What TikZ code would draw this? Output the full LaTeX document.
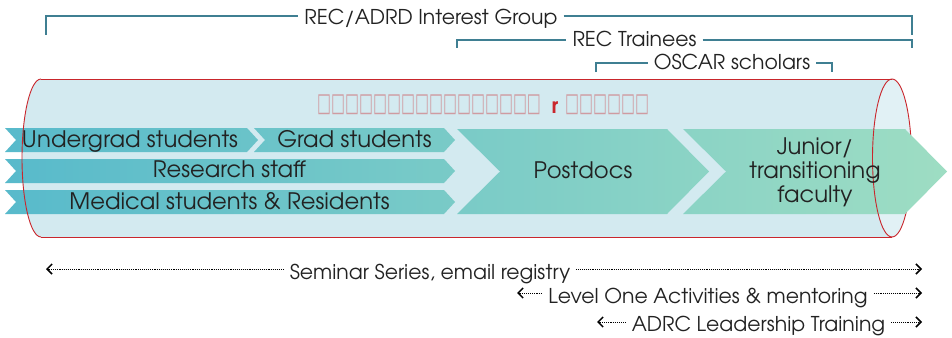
\documentclass[tikz,border=0pt]{standalone}
\usepackage{fontspec}
\setmainfont{texgyreadventor}[Extension=.otf, UprightFont=*-regular, BoldFont=*-bold]
\newfontfamily\boxfont{DejaVu Sans}
\usetikzlibrary{arrows.meta}
\definecolor{cylfill}{HTML}{D3EAF0}
\definecolor{cylface}{HTML}{E1F1F5}
\definecolor{cylline}{HTML}{C9262C}
\definecolor{brkcol}{HTML}{3F7F92}
\definecolor{chevA}{HTML}{58BACB}
\definecolor{chevB}{HTML}{9EDDC3}
\definecolor{txt}{HTML}{222222}
\begin{document}
\begin{tikzpicture}[x=1pt,y=-1pt,
 lbl/.style={font=\fontsize{20.4}{23.5}\selectfont, text=txt, inner xsep=6pt, inner ysep=0pt, anchor=base},
 clbl/.style={lbl, font=\fontsize{22.7}{24}\selectfont},
 brk/.style={draw=brkcol, line width=1.1pt},
 dotarr/.style={draw=black, line width=0.9pt, densely dotted, -{Straight Barb[length=5pt,width=10pt,line width=1.5pt]}},
 cyl/.style={draw=cylline, line width=0.9pt},
 tofu/.style={font=\boxfont\fontsize{20}{20}\selectfont, text=cylline, text opacity=0.4, inner sep=0pt},
]
\useasboundingbox (0,0) rectangle (952,337);
% cylinder
\fill[cylfill] (41,79) -- (892,79) -- (892,237) -- (41,237)
  arc[start angle=90,end angle=270,x radius=19,y radius=79] -- cycle;
\fill[cylface] (892,158) ellipse[x radius=19.5, y radius=79];
\draw[cyl] (41,79) -- (892,79);
\draw[cyl] (41,237) -- (892,237);
\draw[cyl] (892,79) arc[start angle=270,end angle=450,x radius=19.5,y radius=79];
% chevrons
\shade[left color=chevA, right color=chevB]
 (5,128) -- (247,128) -- (258,140) -- (247,152) -- (5,152) -- (16,140) -- cycle
 (254,128) -- (444,128) -- (455,140) -- (444,152) -- (254,152) -- (265,140) -- cycle
 (5,159) -- (444,159) -- (455,171) -- (444,183) -- (5,183) -- (16,171) -- cycle
 (5,190) -- (444,190) -- (455,202) -- (444,214) -- (5,214) -- (16,202) -- cycle
 (457,129) -- (667,129) -- (709,171.5) -- (667,214) -- (457,214) -- (500,171.5) -- cycle
 (683,129) -- (905,129) -- (947,171.5) -- (905,214) -- (683,214) -- (726,171.5) -- cycle;
\draw[cyl] (41,237) arc[start angle=90,end angle=270,x radius=19,y radius=79];
\draw[cyl] (892,79) arc[start angle=270,end angle=90,x radius=19.5,y radius=79];
% title (unrendered glyphs)
\node[tofu, anchor=west] (ttlA) at (317,105) {\scalebox{0.74}[1.3]{□□□□□□□□□□□□□□□□}};
\node[font=\bfseries\fontsize{21}{21}\selectfont, text=cylline, inner sep=0pt, anchor=base] (ttlR) at (555,113) {r};
\node[tofu, anchor=west] (ttlB) at (565,105) {\scalebox{0.74}[1.3]{□□□□□□}};
% chevron labels
\node[clbl] (ug) at (130,147) {Undergrad students};
\node[clbl] (gs) at (354.5,147) {Grad students};
\node[clbl] (rs) at (229.5,177) {Research staff};
\node[clbl] (ms) at (229.5,209) {Medical students \& Residents};
\node[clbl] (pd) at (583,178) {Postdocs};
\node[clbl, anchor=center, align=center] (jf) at (815,172) {Junior/\\transitioning\\faculty};
% brackets
\coordinate (y1) at (0,16); \coordinate (b1L) at (46,35); \coordinate (b1R) at (912,35);
\node[lbl] (t1) at (431,25) {REC/ADRD Interest Group};
\draw[brk] (b1L) |- (t1.west |- y1);
\draw[brk] (t1.east |- y1) -| (b1R);
\coordinate (y2) at (0,40); \coordinate (b2L) at (457,48); \coordinate (b2R) at (912,48);
\node[lbl] (t2) at (634.5,47) {REC Trainees};
\draw[brk] (b2L) |- (t2.west |- y2);
\draw[brk] (t2.east |- y2) -| (b2R);
\coordinate (y3) at (0,63); \coordinate (b3L) at (596,72); \coordinate (b3R) at (832,72);
\node[lbl] (t3) at (732,70) {OSCAR scholars};
\draw[brk] (b3L) |- (t3.west |- y3);
\draw[brk] (t3.east |- y3) -| (b3R);
% bottom arrows
\coordinate (a1L) at (46,269); \coordinate (a1R) at (922,269);
\node[lbl] (s1) at (430,279) {Seminar Series, email registry};
\draw[dotarr] (s1.west |- a1L) -- (a1L);
\draw[dotarr] (s1.east |- a1R) -- (a1R);
\coordinate (a2L) at (517,293); \coordinate (a2R) at (922,293);
\node[lbl] (s2) at (708,303) {Level One Activities \& mentoring};
\draw[dotarr] (s2.west |- a2L) -- (a2L);
\draw[dotarr] (s2.east |- a2R) -- (a2R);
\coordinate (a3L) at (597,322); \coordinate (a3R) at (922,322);
\node[lbl] (s3) at (758.5,331) {ADRC Leadership Training};
\draw[dotarr] (s3.west |- a3L) -- (a3L);
\draw[dotarr] (s3.east |- a3R) -- (a3R);
\end{tikzpicture}
\end{document}
